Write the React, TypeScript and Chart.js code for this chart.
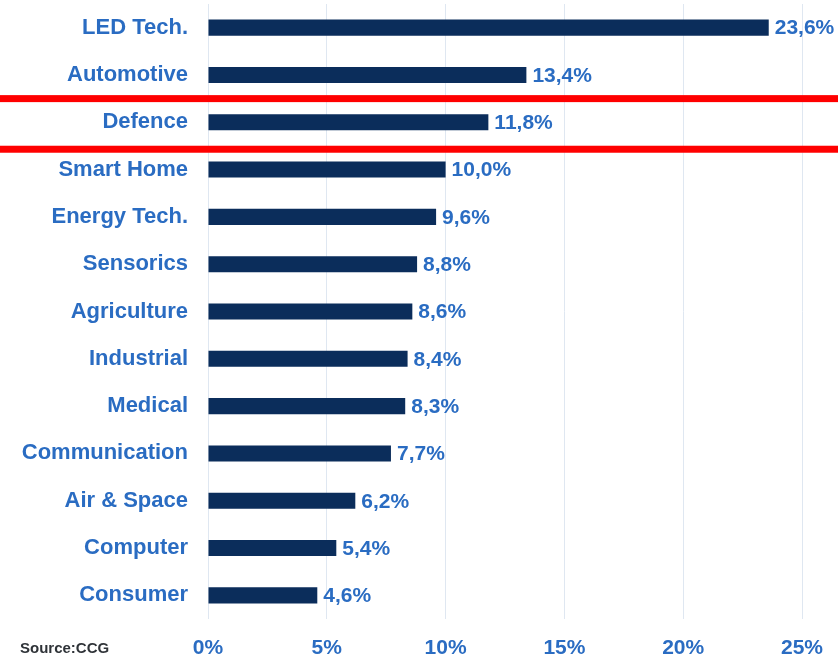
import React, { useEffect, useRef } from "react";
import { Chart, registerables } from "chart.js";

Chart.register(...registerables);

const categories = [
  "LED Tech.",
  "Automotive",
  "Defence",
  "Smart Home",
  "Energy Tech.",
  "Sensorics",
  "Agriculture",
  "Industrial",
  "Medical",
  "Communication",
  "Air & Space",
  "Computer",
  "Consumer",
];
const values = [23.6, 13.4, 11.8, 10.0, 9.6, 8.8, 8.6, 8.4, 8.3, 7.7, 6.2, 5.4, 4.6];
const xTicks = [0, 5, 10, 15, 20, 25];
const highlightCategory = "Defence";
const sourceText = "Source:CCG";

const BLUE = "#2a6cc2";
const NAVY = "#0b2d5b";
const FONT = "'Liberation Sans', Arial, sans-serif";

const fmt = (v: number) => v.toFixed(1).replace(".", ",") + "%";

export default function App() {
  const ref = useRef<HTMLCanvasElement | null>(null);

  useEffect(() => {
    if (!ref.current) return;
    const overlay = {
      id: "overlay",
      afterDatasetsDraw(chart: any) {
        const ctx = chart.ctx;
        const meta = chart.getDatasetMeta(0);
        ctx.save();
        ctx.font = `bold 21px ${FONT}`;
        ctx.fillStyle = BLUE;
        ctx.textAlign = "left";
        ctx.textBaseline = "middle";
        meta.data.forEach((bar: any, i: number) => {
          ctx.fillText(fmt(values[i]), bar.x + 6, bar.y + 1);
        });
        // red highlight lines around the highlighted category
        const y = chart.scales.y;
        const idx = categories.indexOf(highlightCategory);
        const step = y.getPixelForValue(1) - y.getPixelForValue(0);
        const c = y.getPixelForValue(idx);
        ctx.fillStyle = "#ff0000";
        const h = 7;
        [c - 0.5 * step, c + 0.57 * step].forEach((ly) => {
          ctx.fillRect(0, ly - h / 2, chart.width, h);
        });
        // source
        ctx.font = `bold 15px ${FONT}`;
        ctx.fillStyle = "#2f3338";
        ctx.textAlign = "left";
        ctx.fillText(sourceText, 20, 649);
        ctx.restore();
      },
    };

    const chart = new Chart(ref.current, {
      type: "bar",
      data: {
        labels: categories,
        datasets: [
          {
            data: values,
            backgroundColor: NAVY,
            barPercentage: 0.34,
            categoryPercentage: 1,
          },
        ],
      },
      options: {
        indexAxis: "y",
        animation: false,
        responsive: false,
        maintainAspectRatio: false,
        layout: { padding: { top: 4, right: 36, left: 0, bottom: 0 } },
        plugins: { legend: { display: false }, tooltip: { enabled: false } },
        scales: {
          x: {
            min: 0,
            max: 25,
            afterBuildTicks: (s: any) => {
              s.ticks = xTicks.map((v) => ({ value: v }));
            },
            afterFit: (s: any) => {
              s.height = 40;
              s.paddingLeft = 0;
              s.paddingRight = 0;
            },
            grid: { color: "#dfe7f1", lineWidth: 1, drawTicks: false },
            border: { display: false },
            ticks: {
              padding: 17,
              color: BLUE,
              font: { family: FONT, size: 21, weight: "bold" },
              callback: (v: any) => v + "%",
            },
          },
          y: {
            afterFit: (s: any) => {
              s.width = 208;
              s.paddingTop = 0;
              s.paddingBottom = 0;
            },
            grid: { display: false, drawTicks: false },
            border: { display: false },
            ticks: {
              padding: 20,
              color: BLUE,
              font: { family: FONT, size: 22, weight: "bold" },
            },
          },
        },
      },
      plugins: [overlay],
    } as any);
    return () => chart.destroy();
  }, []);

  return (
    <div style={{ position: "fixed", left: 0, top: 0, width: 838, height: 659, background: "#fff" }}>
      <canvas ref={ref} width={838} height={659} style={{ display: "block" }} />
    </div>
  );
}
